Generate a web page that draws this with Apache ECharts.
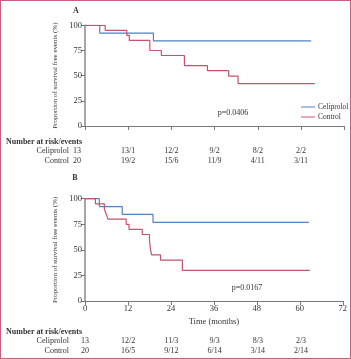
<!DOCTYPE html>
<html>
<head>
<meta charset="utf-8">
<script src="https://cdn.jsdelivr.net/npm/echarts@6/dist/echarts.min.js"></script>
<style>
  html,body{margin:0;padding:0;background:#fff;}
  #chart{width:351px;height:359px;box-sizing:border-box;border:1.5px solid #c8607a;}
</style>
</head>
<body>
<div id="chart"></div>
<script>
// panel A step points [month, %]
var celiA = [[0,100],[4.1,92.3],[19,84.6],[62.8,84.6]]
var ctrlA = [[0,100],[5.6,95],[11.6,90],[12.3,85],[18,75],[21.2,70],[27.6,60],[34,55],[39.9,49.5],[42.5,42],[63.8,42]]
// panel B
var celiB = [[0,100],[4,92.3],[10.4,84.6],[19,76.9],[62.5,76.9]]
var ctrlB = [[0,100],[2.9,95],[5.4,90],[5.9,85],[6.4,80],[11.5,75],[12.3,70],[16,65],[18,60],[18.3,50],[18.6,45],[21.1,40],[27.2,30],[62.8,30]]

var riskCols = ['0','12','24','36','48','60']
var riskCeliA = ['13','13/1','12/2','9/2','8/2','2/2']
var riskCtrlA = ['20','19/2','15/6','11/9','4/11','3/11']
var riskCeliB = ['13','12/2','11/3','9/3','8/3','2/3']
var riskCtrlB = ['20','16/5','9/12','6/14','3/14','2/14']

var blue = '#4f82c2', red = '#c6536b'
var font = 'Liberation Serif'
var txt = '#333'

var chart = echarts.init(document.getElementById('chart'))

function xAx(idx, showLabel){
  return {
    type:'value', gridIndex:idx, min:0, max:72, interval:12,
    axisLine:{show:true, lineStyle:{color:'#777', width:1.2}},
    axisTick:{show:true, length:4, lineStyle:{color:'#777'}},
    axisLabel:{show:showLabel, fontFamily:font, fontSize:8.5, color:txt, margin:3},
    splitLine:{show:false},
    name: showLabel ? 'Time (months)' : '',
    nameLocation:'middle', nameGap:16,
    nameTextStyle:{fontFamily:font, fontSize:8.5, color:txt}
  }
}
function yAx(idx){
  return {
    type:'value', gridIndex:idx, min:0, max:100, interval:25,
    axisLine:{show:true, lineStyle:{color:'#888', width:1.5}},
    axisTick:{show:true, length:4, lineStyle:{color:'#777'}},
    axisLabel:{fontFamily:font, fontSize:8.5, color:txt, margin:3},
    splitLine:{show:false},
    name:'Proportion of survival free events (%)',
    nameLocation:'middle', nameGap:23, nameRotate:90,
    nameTextStyle:{fontFamily:font, fontSize:7, color:txt}
  }
}
function line(name, data, color, idx){
  return {
    name:name, type:'line', step:'end', data:data,
    xAxisIndex:idx, yAxisIndex:idx,
    symbol:'none', lineStyle:{color:color, width:1.2},
    itemStyle:{color:color}
  }
}

// text rows of the risk tables
var graphics = []
function tx(x, y, s, align, bold){
  graphics.push({type:'text', x:x, y:y, style:{text:s, fontFamily:font, fontSize:8,
    fontWeight: bold ? 'bold' : 'normal', fill:txt, textAlign:align, textVerticalAlign:'middle'}})
}
tx(75, 10, 'A', 'center', true)
tx(74, 177, 'B', 'center', true)
tx(5, 140.5, 'Number at risk/events', 'left', true)
tx(68, 150, 'Celiprolol', 'right')
tx(68, 159.5, 'Control', 'right')
tx(5, 330.5, 'Number at risk/events', 'left', true)
tx(68, 340, 'Celiprolol', 'right')
tx(68, 350, 'Control', 'right')
var colX = [84, 127.2, 170.4, 213.6, 256.8, 300]
for (var i = 0; i < riskCols.length; i++) {
  var xa = i === 0 ? 76 : colX[i]
  tx(xa, 150, riskCeliA[i], 'center')
  tx(xa, 159.5, riskCtrlA[i], 'center')
  tx(colX[i], 340, riskCeliB[i], 'center')
  tx(colX[i], 350, riskCtrlB[i], 'center')
}
tx(232, 112, 'p=0.0406', 'center')
tx(246, 287, 'p=0.0167', 'center')

chart.setOption({
  animation:false,
  grid:[
    {left:84, top:24.3, width:259.3, height:100.7},
    {left:84, top:197.7, width:259.3, height:102.3}
  ],
  xAxis:[xAx(0,false), xAx(1,true)],
  yAxis:[yAx(0), yAx(1)],
  legend:{
    data:['Celiprolol','Control'], orient:'vertical', left:300, top:102, padding:0,
    itemWidth:14, itemHeight:6, itemGap:2, icon:'path://M0,2.5L14,2.5L14,3.5L0,3.5Z',
    textStyle:{fontFamily:font, fontSize:7.5, color:txt, padding:[0,0,0,-2]}
  },
  series:[
    line('Celiprolol', celiA, blue, 0),
    line('Control', ctrlA, red, 0),
    line('Celiprolol', celiB, blue, 1),
    line('Control', ctrlB, red, 1)
  ],
  graphic:graphics
})
</script>
</body>
</html>
